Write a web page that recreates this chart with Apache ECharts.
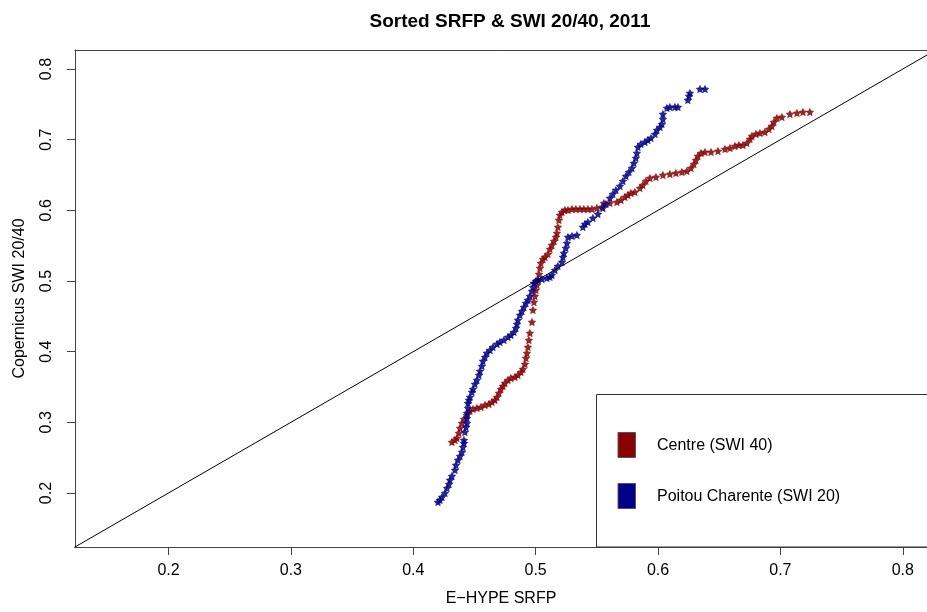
<!DOCTYPE html>
<html>
<head>
<meta charset="utf-8">
<script src="https://cdn.jsdelivr.net/npm/echarts@6/dist/echarts.min.js"></script>
<style>
html,body{margin:0;padding:0;background:#fff;}
#main{width:927px;height:612px;}
</style>
</head>
<body>
<div id="main"></div>
<script>
// Poitou Charente (SWI 20): [E-HYPE SRFP, Copernicus SWI] sorted pairs
const poitouX = [0.4202,0.4218,0.4235,0.4259,0.4276,0.4292,0.4300,0.4316,0.4341,0.4349,0.4365,0.4382,0.4398,0.4406,0.4414,0.4414,0.4422,0.4431,0.4439,0.4439,0.4439,0.4447,0.4447,0.4455,0.4463,0.4480,0.4488,0.4504,0.4520,0.4537,0.4545,0.4561,0.4569,0.4586,0.4602,0.4627,0.4651,0.4684,0.4708,0.4741,0.4774,0.4798,0.4823,0.4839,0.4847,0.4855,0.4872,0.4888,0.4904,0.4921,0.4937,0.4953,0.4970,0.4978,0.4986,0.5002,0.5019,0.5051,0.5092,0.5117,0.5133,0.5158,0.5182,0.5215,0.5223,0.5231,0.5247,0.5256,0.5264,0.5297,0.5337,0.5386,0.5403,0.5427,0.5468,0.5509,0.5550,0.5574,0.5607,0.5631,0.5656,0.5689,0.5713,0.5738,0.5762,0.5787,0.5803,0.5819,0.5827,0.5836,0.5860,0.5893,0.5917,0.5942,0.5975,0.5991,0.6016,0.6032,0.6040,0.6040,0.6073,0.6097,0.6138,0.6163,0.6244,0.6253,0.6261,0.6343,0.6384];
const poitouY = [0.1873,0.1901,0.1943,0.2000,0.2071,0.2127,0.2184,0.2241,0.2325,0.2396,0.2467,0.2524,0.2580,0.2651,0.2708,0.2750,0.2863,0.2934,0.2991,0.3061,0.3132,0.3203,0.3274,0.3316,0.3358,0.3429,0.3472,0.3542,0.3599,0.3670,0.3726,0.3797,0.3868,0.3924,0.3981,0.4023,0.4066,0.4108,0.4137,0.4165,0.4207,0.4236,0.4278,0.4335,0.4391,0.4448,0.4519,0.4575,0.4632,0.4689,0.4731,0.4788,0.4858,0.4915,0.4972,0.5000,0.5014,0.5028,0.5042,0.5056,0.5085,0.5156,0.5212,0.5269,0.5339,0.5396,0.5467,0.5538,0.5622,0.5637,0.5651,0.5764,0.5806,0.5835,0.5892,0.5948,0.6033,0.6090,0.6174,0.6231,0.6288,0.6344,0.6415,0.6486,0.6542,0.6599,0.6670,0.6740,0.6811,0.6896,0.6938,0.6967,0.6995,0.7023,0.7080,0.7136,0.7179,0.7221,0.7292,0.7363,0.7448,0.7462,0.7462,0.7462,0.7561,0.7617,0.7660,0.7717,0.7717];

// Centre (SWI 40)
const centreX = [0.4316,0.4341,0.4357,0.4373,0.4382,0.4398,0.4414,0.4439,0.4463,0.4488,0.4520,0.4553,0.4586,0.4618,0.4643,0.4667,0.4684,0.4700,0.4716,0.4733,0.4749,0.4774,0.4798,0.4831,0.4855,0.4880,0.4896,0.4913,0.4921,0.4929,0.4937,0.4945,0.4953,0.4970,0.4978,0.4986,0.4994,0.5002,0.5011,0.5019,0.5027,0.5035,0.5043,0.5060,0.5076,0.5101,0.5117,0.5133,0.5150,0.5166,0.5174,0.5182,0.5190,0.5198,0.5215,0.5239,0.5264,0.5297,0.5329,0.5362,0.5394,0.5427,0.5460,0.5501,0.5542,0.5558,0.5607,0.5664,0.5697,0.5729,0.5754,0.5778,0.5811,0.5852,0.5876,0.5901,0.5934,0.5983,0.6040,0.6097,0.6146,0.6195,0.6236,0.6269,0.6293,0.6310,0.6326,0.6351,0.6384,0.6433,0.6490,0.6547,0.6588,0.6629,0.6661,0.6694,0.6726,0.6751,0.6767,0.6800,0.6833,0.6873,0.6906,0.6930,0.6947,0.6971,0.7012,0.7078,0.7135,0.7184,0.7241];
const centreY = [0.2722,0.2750,0.2778,0.2849,0.2920,0.2991,0.3047,0.3104,0.3160,0.3189,0.3203,0.3217,0.3245,0.3259,0.3288,0.3316,0.3358,0.3415,0.3472,0.3514,0.3557,0.3599,0.3627,0.3641,0.3670,0.3712,0.3755,0.3825,0.3910,0.3981,0.4066,0.4165,0.4264,0.4420,0.4589,0.4703,0.4788,0.4872,0.4943,0.5014,0.5099,0.5184,0.5255,0.5311,0.5339,0.5382,0.5453,0.5509,0.5566,0.5622,0.5679,0.5764,0.5863,0.5934,0.5976,0.6005,0.6005,0.6019,0.6019,0.6019,0.6019,0.6019,0.6019,0.6033,0.6047,0.6104,0.6104,0.6118,0.6146,0.6189,0.6217,0.6245,0.6259,0.6316,0.6358,0.6415,0.6458,0.6472,0.6500,0.6514,0.6528,0.6542,0.6557,0.6599,0.6655,0.6712,0.6769,0.6811,0.6825,0.6825,0.6839,0.6868,0.6882,0.6910,0.6924,0.6924,0.6953,0.7009,0.7052,0.7080,0.7094,0.7108,0.7151,0.7193,0.7250,0.7306,0.7320,0.7363,0.7377,0.7391,0.7391];

const tickValues = [0.2, 0.3, 0.4, 0.5, 0.6, 0.7, 0.8];
const xMin = 0.1236, xMax = 0.8198;   // visible part of the x range (plot box runs past the right edge)
const yMin = 0.1236, yMax = 0.8269;
const diagonal = [[0, 0], [1, 1]];

const legendNames = ['Centre (SWI 40)', 'Poitou Charente (SWI 20)'];
const colors = ['#8B0000', '#00008B'];

const starPath = 'path://M0,-10 L2.94,-4.05 L9.51,-3.09 L4.76,1.55 L5.88,8.09 L0,5 L-5.88,8.09 L-4.76,1.55 L-9.51,-3.09 L-2.94,-4.05 Z';

function pairs(xs, ys) { return xs.map((x, i) => [x, ys[i]]); }

const font = 'Liberation Sans, Arial, Helvetica, sans-serif';
const chart = echarts.init(document.getElementById('main'), null, {renderer: 'canvas'});

const lineCol = '#444';
const labelStyle = {fontFamily: font, fontSize: 16, color: '#000'};

chart.setOption({
  animation: false,
  backgroundColor: '#fff',
  title: {
    text: 'Sorted SRFP & SWI 20/40, 2011',
    left: 505, top: 7, textAlign: 'center',
    textStyle: {fontFamily: font, fontSize: 19, fontWeight: 'bold', color: '#000'}
  },
  grid: {left: 75, top: 50, right: 0, bottom: 65, show: false},
  xAxis: [
    {
      type: 'value', min: xMin, max: xMax, position: 'bottom',
      splitLine: {show: false},
      axisLine: {show: true, onZero: false, lineStyle: {color: lineCol, width: 1}},
      axisTick: {show: true, length: 8, customValues: tickValues, lineStyle: {color: lineCol, width: 1}},
      axisLabel: Object.assign({customValues: tickValues, margin: 16}, labelStyle),
      name: 'E\u2212HYPE SRFP', nameLocation: 'middle', nameGap: 44,
      nameTextStyle: labelStyle
    },
    {
      type: 'value', min: xMin, max: xMax, position: 'top',
      splitLine: {show: false},
      axisLine: {show: true, onZero: false, lineStyle: {color: lineCol, width: 1}},
      axisTick: {show: false}, axisLabel: {show: false}
    }
  ],
  yAxis: {
    type: 'value', min: yMin, max: yMax,
    splitLine: {show: false},
    axisLine: {show: true, onZero: false, lineStyle: {color: lineCol, width: 1}},
    axisTick: {show: true, length: 8, customValues: tickValues, lineStyle: {color: lineCol, width: 1}},
    axisLabel: Object.assign({customValues: tickValues, rotate: 90, margin: 20}, labelStyle),
    name: 'Copernicus SWI 20/40', nameLocation: 'middle', nameGap: 47,
    nameTextStyle: labelStyle
  },
  series: [
    {
      type: 'line', data: diagonal, showSymbol: false, clip: true, silent: true,
      lineStyle: {color: '#000', width: 1}, z: 3
    },
    {
      name: legendNames[0], type: 'scatter', data: pairs(centreX, centreY),
      symbol: starPath, symbolSize: 8.5,
      itemStyle: {color: colors[0], opacity: 0.85}, z: 2
    },
    {
      name: legendNames[1], type: 'scatter', data: pairs(poitouX, poitouY),
      symbol: starPath, symbolSize: 8.5,
      itemStyle: {color: colors[1], opacity: 0.85}, z: 2
    }
  ],
  graphic: [
    {type: 'rect', shape: {x: 596.5, y: 394.5, width: 400, height: 152.5},
     style: {fill: '#fff', stroke: '#333', lineWidth: 1}, z: 10},
    {type: 'rect', shape: {x: 618, y: 432.5, width: 17.5, height: 25},
     style: {fill: colors[0], stroke: '#555', lineWidth: 1}, z: 11},
    {type: 'rect', shape: {x: 618, y: 483.5, width: 17.5, height: 25},
     style: {fill: colors[1], stroke: '#555', lineWidth: 1}, z: 11},
    {type: 'text', x: 657, y: 446, z: 11,
     style: {text: legendNames[0], fontFamily: font, fontSize: 16, fill: '#000', verticalAlign: 'middle'}},
    {type: 'text', x: 657, y: 497, z: 11,
     style: {text: legendNames[1], fontFamily: font, fontSize: 16, fill: '#000', verticalAlign: 'middle'}}
  ]
});
</script>
</body>
</html>
